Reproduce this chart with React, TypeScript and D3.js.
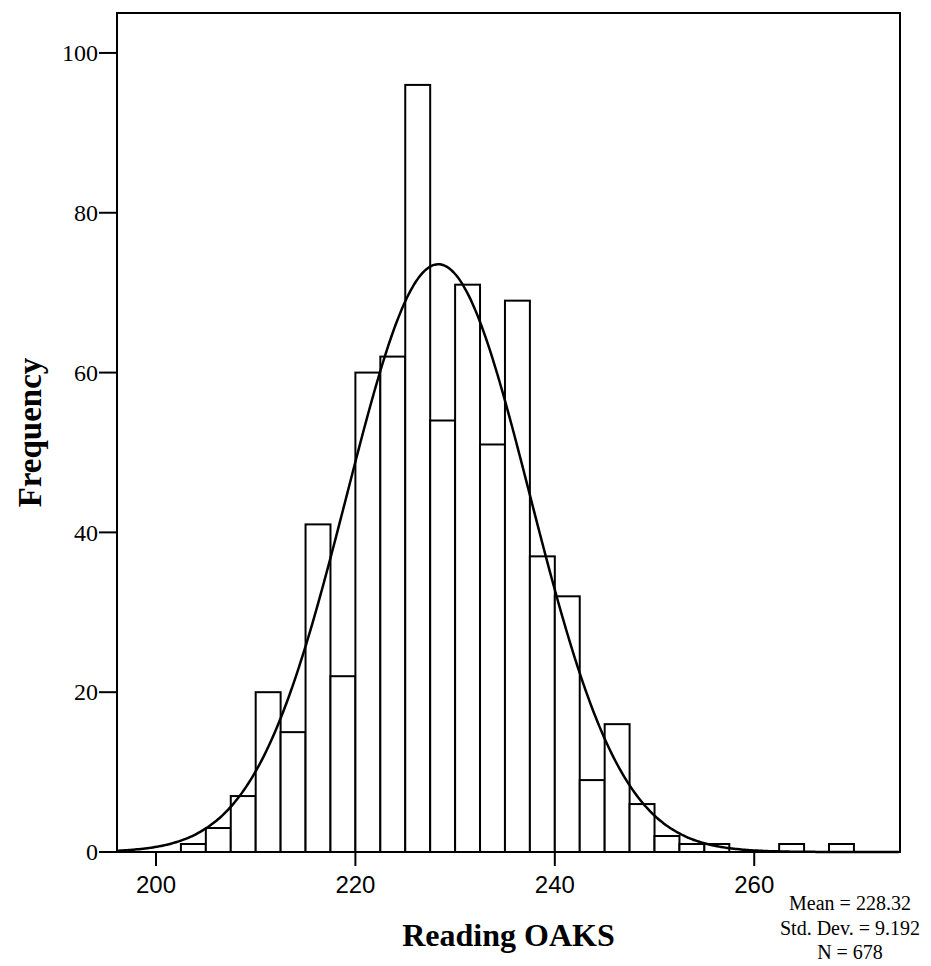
import { useEffect, useRef } from "react";
import * as d3 from "d3";

// histogram bins (lower bound of each 2.5-wide bin) and their counts
const binStarts = [
  202.5, 205, 207.5, 210, 212.5, 215, 217.5, 220, 222.5, 225, 227.5, 230,
  232.5, 235, 237.5, 240, 242.5, 245, 247.5, 250, 252.5, 255, 262.5, 267.5,
];
const counts = [
  1, 3, 7, 20, 15, 41, 22, 60, 62, 96, 54, 71, 51, 69, 37, 32, 9, 16, 6, 2, 1,
  1, 1, 1,
];
const binWidth = 2.5;

const xTicks = [200, 220, 240, 260];
const yTicks = [0, 20, 40, 60, 80, 100];

// summary stats shown under the chart (used for the normal curve)
const mean = 228.32;
const stdDev = 9.192;
const n = 678;
const statLines = ["Mean = 228.32", "Std. Dev. = 9.192", "N = 678"];

function Histogram() {
  const ref = useRef<HTMLDivElement>(null);

  useEffect(() => {
    const width = 931;
    const height = 966;
    const plot = { left: 117, right: 900, top: 13, bottom: 852 };

    const xScale = d3.scaleLinear([196.09, 274.62], [plot.left, plot.right]);
    const yScale = d3.scaleLinear([0, 105], [plot.bottom, plot.top]);

    const svg = d3
      .select(ref.current)
      .append("svg")
      .attr("width", width)
      .attr("height", height)
      .style("display", "block")
      .style("background", "#fff");

    // bars
    const bins = binStarts.map((s, i) => ({ start: s, count: counts[i] }));
    svg
      .selectAll("rect.bar")
      .data(bins)
      .enter()
      .append("rect")
      .attr("class", "bar")
      .attr("x", (d) => xScale(d.start))
      .attr("width", (d) => xScale(d.start + binWidth) - xScale(d.start))
      .attr("y", (d) => yScale(d.count))
      .attr("height", (d) => yScale(0) - yScale(d.count))
      .attr("fill", "#fff")
      .attr("stroke", "#000")
      .attr("stroke-width", 2);

    // normal curve from the stated mean / sd, scaled to counts
    const scale = n * binWidth;
    const pdf = (v: number) =>
      (scale / (stdDev * Math.sqrt(2 * Math.PI))) *
      Math.exp(-0.5 * ((v - mean) / stdDev) ** 2);
    const xs = d3.range(xScale.domain()[0], xScale.domain()[1], 0.2);
    const line = d3
      .line<number>()
      .curve(d3.curveBasis)
      .x((v) => xScale(v))
      .y((v) => yScale(pdf(v)));
    svg
      .append("path")
      .attr("d", line(xs))
      .attr("fill", "none")
      .attr("stroke", "#000")
      .attr("stroke-width", 2.5);

    // frame
    svg
      .append("rect")
      .attr("x", plot.left)
      .attr("y", plot.top)
      .attr("width", plot.right - plot.left)
      .attr("height", plot.bottom - plot.top)
      .attr("fill", "none")
      .attr("stroke", "#000")
      .attr("stroke-width", 2);

    // y ticks
    const yg = svg.append("g");
    yTicks.forEach((t) => {
      yg.append("line")
        .attr("x1", plot.left - 18)
        .attr("x2", plot.left)
        .attr("y1", yScale(t))
        .attr("y2", yScale(t))
        .attr("stroke", "#000")
        .attr("stroke-width", 2);
      yg.append("text")
        .attr("x", plot.left - 19)
        .attr("y", yScale(t))
        .attr("dy", "0.34em")
        .attr("text-anchor", "end")
        .attr("font-family", "Liberation Serif")
        .attr("font-size", "24px")
        .attr("fill", "#000")
        .text(t);
    });

    // x ticks
    const xg = svg.append("g");
    xTicks.forEach((t) => {
      xg.append("line")
        .attr("x1", xScale(t))
        .attr("x2", xScale(t))
        .attr("y1", plot.bottom)
        .attr("y2", plot.bottom + 14)
        .attr("stroke", "#000")
        .attr("stroke-width", 2);
      xg.append("text")
        .attr("x", xScale(t))
        .attr("y", plot.bottom + 41)
        .attr("text-anchor", "middle")
        .attr("font-family", "Liberation Sans")
        .attr("font-size", "24px")
        .attr("fill", "#000")
        .text(t);
    });

    // axis titles
    svg
      .append("text")
      .attr("transform", `translate(29, ${(plot.top + plot.bottom) / 2}) rotate(-90)`)
      .attr("text-anchor", "middle")
      .attr("dy", "0.35em")
      .attr("font-family", "Liberation Serif")
      .attr("font-weight", "bold")
      .attr("font-size", "33px")
      .attr("fill", "#000")
      .text("Frequency");

    svg
      .append("text")
      .attr("x", (plot.left + plot.right) / 2)
      .attr("y", 946)
      .attr("text-anchor", "middle")
      .attr("font-family", "Liberation Serif")
      .attr("font-weight", "bold")
      .attr("font-size", "32px")
      .attr("fill", "#000")
      .text("Reading OAKS");

    // stats box
    statLines.forEach((s, i) => {
      svg
        .append("text")
        .attr("x", 850)
        .attr("y", 910 + i * 24.5)
        .attr("text-anchor", "middle")
        .attr("font-family", "Liberation Serif")
        .attr("font-size", "20px")
        .attr("fill", "#000")
        .text(s);
    });

    return () => {
      d3.select(ref.current).select("svg").remove();
    };
  }, []);

  return <div ref={ref}></div>;
}

export default function App() {
  return (
    <div style={{ position: "absolute", left: 0, top: 0 }}>
      <Histogram />
    </div>
  );
}
